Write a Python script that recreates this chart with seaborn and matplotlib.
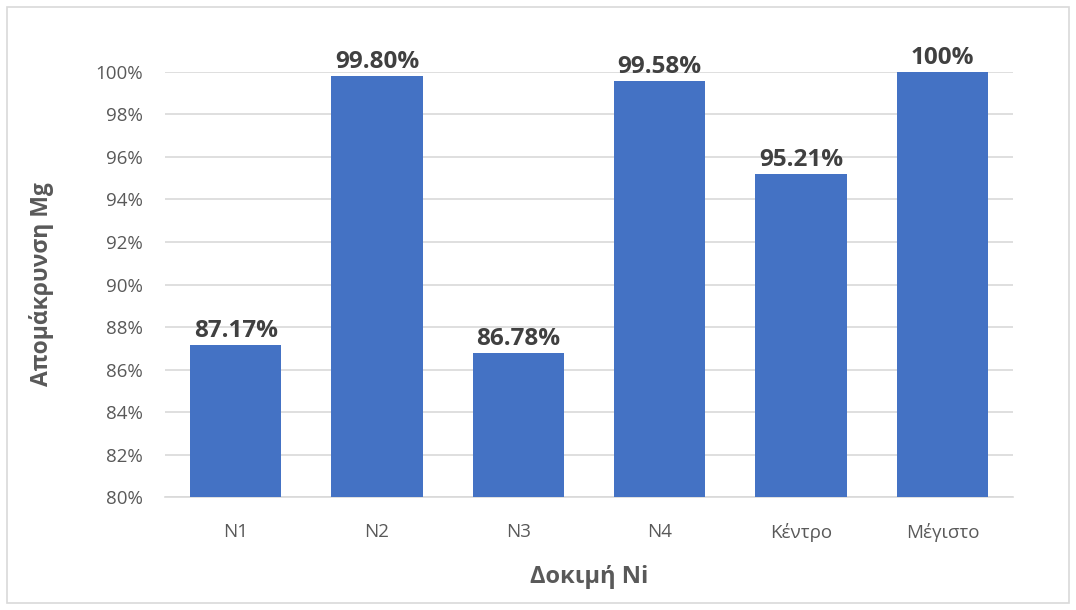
import numpy as np
import pandas as pd
import matplotlib
matplotlib.use("Agg")
import matplotlib.pyplot as plt
import seaborn as sns
from matplotlib.ticker import PercentFormatter
from matplotlib.patches import Rectangle

# veriler
kategoriler = ["N1", "N2", "N3", "N4", "Κέντρο", "Μέγιστο"]
degerler = [0.8717, 0.9980, 0.8678, 0.9958, 0.9521, 1.0]
etiketler = ["87.17%", "99.80%", "86.78%", "99.58%", "95.21%", "100%"]
y_ticks = [0.80, 0.82, 0.84, 0.86, 0.88, 0.90, 0.92, 0.94, 0.96, 0.98, 1.00]

df = pd.DataFrame({"Δοκιμή": kategoriler, "Απομάκρυνση": degerler})

sns.set_theme(style="white")
plt.rcParams["font.family"] = ["Open Sans", "DejaVu Sans"]

fig = plt.figure(figsize=(10.76, 6.10), dpi=100)
ax = fig.add_axes([0.1533, 0.1852, 0.7882, 0.6968])

sns.barplot(data=df, x="Δοκιμή", y="Απομάκρυνση", color="#4472C4",
            saturation=1, width=0.645, ax=ax, zorder=3, linewidth=0)

ax.set_ylim(0.80, 1.00)
ax.set_yticks(y_ticks)
ax.yaxis.set_major_formatter(PercentFormatter(1.0, decimals=0))
ax.grid(axis="y", color="#D9D9D9", linewidth=1.2, zorder=0)
ax.set_axisbelow(True)
for s in ["top", "right", "left"]:
    ax.spines[s].set_visible(False)
ax.spines["bottom"].set_color("#D9D9D9")
ax.spines["bottom"].set_linewidth(1.2)
ax.tick_params(axis="both", length=0, labelsize=13.5, labelcolor="#595959")
ax.tick_params(axis="x", pad=19)
ax.tick_params(axis="y", pad=16)

# değer etiketleri
for p, lab in zip(ax.patches, etiketler):
    ax.annotate(lab, (p.get_x() + p.get_width() / 2, p.get_height()),
                xytext=(0, 1.5), textcoords="offset points", ha="center", va="bottom",
                fontsize=17.5, fontweight="bold", color="#404040", clip_on=False)

ax.set_xlabel("Δοκιμή Ni", fontsize=17, fontweight="bold", color="#595959", labelpad=16)
ax.set_ylabel("Απομάκρυνση Mg", fontsize=16.5, fontweight="bold", color="#595959")
ax.yaxis.set_label_coords(-0.131, 0.5)

# çerçeve
fig.patches.append(Rectangle((0.0065, 0.011), 0.987, 0.977, transform=fig.transFigure,
                             fill=False, edgecolor="#D9D9D9", linewidth=1.2))

fig.savefig("out.png", dpi=100)
